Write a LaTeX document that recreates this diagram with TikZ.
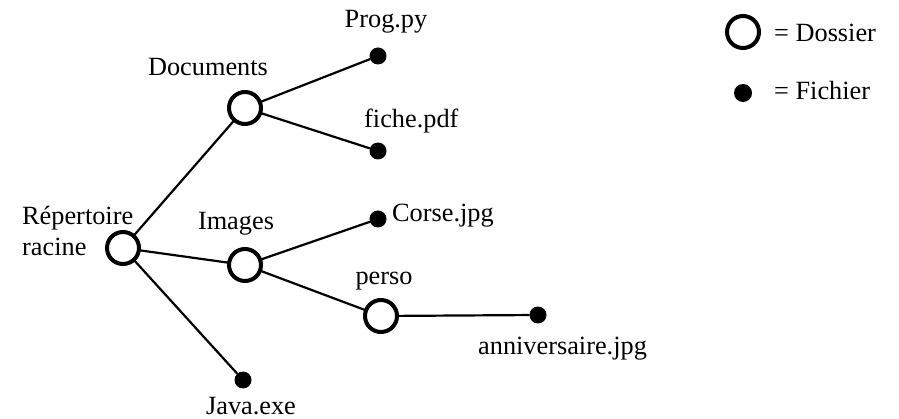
\documentclass[tikz,border=0pt]{standalone}
\usepackage{fontspec}
\setmainfont{Liberation Serif}
\begin{document}
\begin{tikzpicture}[x=1pt,y=-1pt,
  folder/.style={circle,draw,line width=4pt,fill=white,minimum size=32pt,inner sep=0pt,outer sep=0pt},
  file/.style={circle,fill=black,minimum size=17pt,inner sep=0pt,outer sep=0pt},
  lbl/.style={font=\fontsize{26.3}{31}\selectfont,inner sep=0pt},
  link/.style={line width=2.2pt}]
\useasboundingbox (0,0) rectangle (899,419);
% nodes
\node[folder] (root) at (123,248) {};
\node[folder] (docs) at (245,108) {};
\node[folder] (imgs) at (245,265) {};
\node[folder] (perso) at (381,316) {};
\node[file] (prog) at (378,56) {};
\node[file] (fiche) at (378,151) {};
\node[file] (corse) at (378,219) {};
\node[file] (anniv) at (538,315) {};
\node[file] (java) at (243,380) {};
% connectors
\draw[link] (root) -- (docs);
\draw[link] (root) -- (imgs);
\draw[link] (root) -- (java);
\draw[link] (docs) -- (prog);
\draw[link] (docs) -- (fiche);
\draw[link] (imgs) -- (corse);
\draw[link] (imgs) -- (perso);
\draw[link] (perso) -- (anniv);
% labels
\node[lbl,anchor=base west] (lroot1) at (22,225) {Répertoire};
\node[lbl,anchor=base west] (lroot2) at (22,256) {racine};
\node[lbl,anchor=base] (ldocs) at (208,76) {Documents};
\node[lbl,anchor=base] (limgs) at (236,230) {Images};
\node[lbl,anchor=base] (lperso) at (384,285) {perso};
\node[lbl,anchor=base] (lprog) at (386,28) {Prog.py};
\node[lbl,anchor=base west] (lfiche) at (364,128) {fiche.pdf};
\node[lbl,anchor=base west] (lcorse) at (392,222) {Corse.jpg};
\node[lbl,anchor=base west] (lanniv) at (478,354) {anniversaire.jpg};
\node[lbl,anchor=base] (ljava) at (251,414) {Java.exe};
% legend
\node[folder] (kfolder) at (743,32) {};
\node[file,minimum size=18pt] (kfile) at (743,93) {};
\node[lbl,anchor=base west] (kfoldert) at (774,42) {= Dossier};
\node[lbl,anchor=base west] (kfilet) at (774,100) {= Fichier};
\end{tikzpicture}
\end{document}
